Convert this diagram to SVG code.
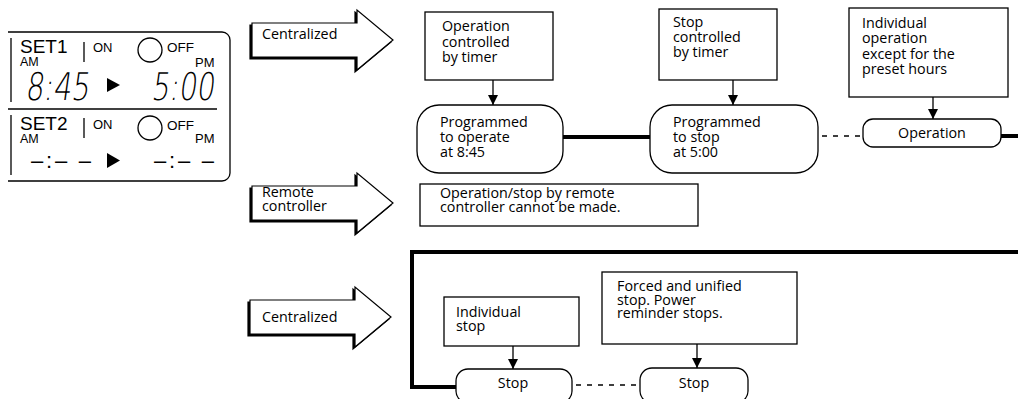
<svg xmlns="http://www.w3.org/2000/svg" width="1018" height="399" viewBox="0 0 1018 399">
<style>
.box{fill:#fff;stroke:#000;stroke-width:1.3}
.rbox{fill:#fff;stroke:#000;stroke-width:1.3}
.t{font-family:"Open Sans","Noto Sans",sans-serif;font-size:14.3px;fill:#000}
.tc{font-family:"Open Sans","Noto Sans",sans-serif;font-size:14.3px;fill:#000;text-anchor:middle}
.lcd{font-family:"Liberation Sans",Arial,sans-serif;fill:#000}
.seg{font-family:"DejaVu Sans",sans-serif;font-weight:200;font-size:38px;fill:#000}
.ln{stroke:#000;stroke-width:1.3;fill:none}
.thick{stroke:#000;stroke-width:4;fill:none}
.dash{stroke:#000;stroke-width:1.6;fill:none;stroke-dasharray:5 6}
.bigarrow{fill:#fff;stroke:#000;stroke-width:1.2;stroke-linejoin:miter}
.shadow{fill:#000;stroke:#000;stroke-width:1.2}
</style>
<defs>
<marker id="ah" markerUnits="userSpaceOnUse" markerWidth="10" markerHeight="10" viewBox="0 0 10 10" refX="10" refY="5" orient="auto">
<path d="M0,0 L10,5 L0,10 Z" fill="#000"/>
</marker>
<polygon id="blk" points="0,13 105,13 105,0 141,30 105,60 105,47 0,47"/>
</defs>
<rect width="1018" height="399" fill="#fff"/>

<g id="lcd-panel">
<path class="ln" d="M8,32 H222 A8,8 0 0 1 230,40 V173 A8,8 0 0 1 222,181 H8"/>
<line class="ln" x1="8" y1="109" x2="217" y2="109"/>
<line class="ln" x1="11" y1="38" x2="11" y2="102"/>
<line class="ln" x1="11" y1="115" x2="11" y2="175"/>
<line class="ln" x1="84" y1="42" x2="84" y2="62"/>
<line class="ln" x1="84" y1="118" x2="84" y2="138"/>
<circle class="ln" cx="150" cy="50" r="12"/>
<circle class="ln" cx="150" cy="128" r="12"/>
<text class="lcd" x="20" y="53" font-size="19">SET1</text>
<text class="lcd" x="20" y="66" font-size="12.5">AM</text>
<text class="lcd" x="93" y="52" font-size="13">ON</text>
<text class="lcd" x="167" y="52" font-size="13.5">OFF</text>
<text class="lcd" x="195" y="67" font-size="13">PM</text>
<text class="seg" x="26" y="100" textLength="64" lengthAdjust="spacingAndGlyphs" transform="skewX(-8) translate(13,0)">8:45</text>
<polygon points="107,78 120,85 107,92" fill="#000"/>
<text class="seg" x="152" y="100" textLength="63" lengthAdjust="spacingAndGlyphs" transform="skewX(-8) translate(13,0)">5:00</text>
<text class="lcd" x="20" y="130" font-size="19">SET2</text>
<text class="lcd" x="20" y="143" font-size="12.5">AM</text>
<text class="lcd" x="93" y="129" font-size="13">ON</text>
<text class="lcd" x="167" y="130" font-size="13.5">OFF</text>
<text class="lcd" x="195" y="143" font-size="13">PM</text>
<text class="lcd" x="31" y="168" font-size="22" textLength="60" lengthAdjust="spacing">–:– –</text>
<polygon points="107,153 120,160.5 107,168" fill="#000"/>
<text class="lcd" x="154" y="168" font-size="22" textLength="60" lengthAdjust="spacing">–:– –</text>
</g>

<g id="arrow-centralized-1">
<use href="#blk" class="shadow" transform="translate(250,12)"/>
<use href="#blk" class="bigarrow" transform="translate(252,10)"/>
<text class="t" x="262" y="39">Centralized</text>
</g>
<g id="arrow-remote">
<use href="#blk" class="shadow" transform="translate(250,175)"/>
<use href="#blk" class="bigarrow" transform="translate(252,173)"/>
<text class="t" x="262" y="197">Remote</text>
<text class="t" x="262" y="211">controller</text>
</g>
<g id="arrow-centralized-2">
<use href="#blk" class="shadow" transform="translate(248,289)"/>
<use href="#blk" class="bigarrow" transform="translate(250,287)"/>
<text class="t" x="262" y="322">Centralized</text>
</g>

<g id="connectors">
<line class="ln" x1="493" y1="80" x2="493" y2="105" marker-end="url(#ah)"/>
<line class="ln" x1="733" y1="80" x2="733" y2="105" marker-end="url(#ah)"/>
<line class="ln" x1="933" y1="97" x2="933" y2="119" marker-end="url(#ah)"/>
<line class="ln" x1="513" y1="346" x2="513" y2="369" marker-end="url(#ah)"/>
<line class="ln" x1="697" y1="344" x2="697" y2="368" marker-end="url(#ah)"/>
<line class="thick" x1="563" y1="137" x2="650" y2="137"/>
<line class="dash" x1="822" y1="136" x2="862" y2="136"/>
<line class="thick" x1="1001" y1="136" x2="1018" y2="136"/>
<path class="thick" d="M1018,252 H412 V387 H457"/>
<line class="dash" x1="576" y1="385" x2="638" y2="385"/>
</g>

<g id="box-op-timer">
<rect class="box" x="425" y="12" width="128" height="68"/>
<text class="t" x="442" y="31">Operation</text>
<text class="t" x="442" y="47">controlled</text>
<text class="t" x="442" y="62">by timer</text>
</g>
<g id="node-programmed-operate">
<rect class="rbox" x="417" y="105" width="146" height="68" rx="22" ry="22"/>
<text class="t" x="440" y="127">Programmed</text>
<text class="t" x="440" y="142">to operate</text>
<text class="t" x="440" y="157">at 8:45</text>
</g>
<g id="box-stop-timer">
<rect class="box" x="659" y="9" width="118" height="71"/>
<text class="t" x="673" y="27">Stop</text>
<text class="t" x="673" y="42">controlled</text>
<text class="t" x="673" y="57">by timer</text>
</g>
<g id="node-programmed-stop">
<rect class="rbox" x="650" y="105" width="168" height="68" rx="22" ry="22"/>
<text class="t" x="673" y="127">Programmed</text>
<text class="t" x="673" y="142">to stop</text>
<text class="t" x="673" y="157">at 5:00</text>
</g>
<g id="box-individual-op">
<rect class="box" x="849" y="8" width="159" height="89"/>
<text class="t" x="862" y="28">Individual</text>
<text class="t" x="862" y="43">operation</text>
<text class="t" x="862" y="59">except for the</text>
<text class="t" x="862" y="74">preset hours</text>
</g>
<g id="node-operation">
<rect class="rbox" x="863" y="119" width="138" height="28" rx="10" ry="10"/>
<text class="tc" x="932" y="138">Operation</text>
</g>
<g id="box-remote-note">
<rect class="box" x="420" y="184" width="278" height="42"/>
<text class="t" x="440" y="198">Operation/stop by remote</text>
<text class="t" x="440" y="212">controller cannot be made.</text>
</g>
<g id="box-individual-stop">
<rect class="box" x="444" y="297" width="135" height="49"/>
<text class="t" x="456" y="317">Individual</text>
<text class="t" x="456" y="331">stop</text>
</g>
<g id="node-stop-1">
<rect class="rbox" x="456" y="369" width="116" height="34" rx="12" ry="12"/>
<text class="tc" x="513" y="388">Stop</text>
</g>
<g id="box-forced-stop">
<rect class="box" x="602" y="272" width="195" height="72"/>
<text class="t" x="617" y="291">Forced and unified</text>
<text class="t" x="617" y="305">stop. Power</text>
<text class="t" x="617" y="318">reminder stops.</text>
</g>
<g id="node-stop-2">
<rect class="rbox" x="640" y="368" width="108" height="35" rx="12" ry="12"/>
<text class="tc" x="694" y="388">Stop</text>
</g>
</svg>
